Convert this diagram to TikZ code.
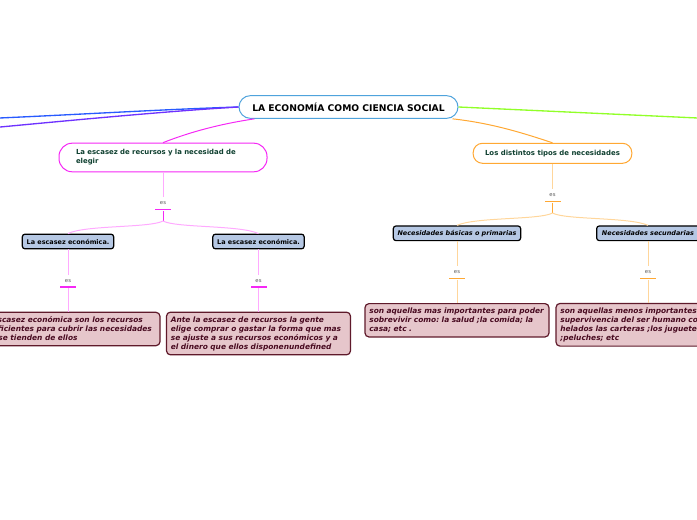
\documentclass[tikz,border=0pt]{standalone}
\usepackage{fontspec}
\setmainfont{DejaVu Sans}
\frenchspacing
\definecolor{rootblue}{RGB}{79,163,220}
\definecolor{mag}{RGB}{245,40,245}
\definecolor{maglight}{RGB}{255,170,255}
\definecolor{ora}{RGB}{255,168,51}
\definecolor{oralight}{RGB}{255,214,155}
\definecolor{subtext}{RGB}{15,64,48}
\definecolor{bluefill}{RGB}{182,200,228}
\definecolor{pinkfill}{RGB}{230,198,203}
\definecolor{pinkline}{RGB}{95,26,43}
\definecolor{pinktext}{RGB}{72,10,32}
\definecolor{lineblue}{RGB}{40,90,255}
\definecolor{linepurple}{RGB}{110,50,255}
\definecolor{linegreen}{RGB}{145,255,40}
\tikzset{every picture/.style={line width=0.75pt}}
\tikzset{
  rootbox/.style={draw=rootblue,fill=white,rounded corners=8.5pt,inner sep=0pt,font=\fontsize{6.9}{8}\selectfont\bfseries},
  subbox/.style={fill=white,rounded corners=10pt,inner sep=0pt,text=subtext,align=left,font=\fontsize{5.2}{6.75}\selectfont\bfseries},
  bluebox/.style={draw=black,line width=0.9pt,fill=bluefill,rounded corners=2pt,inner sep=0pt,font=\fontsize{4.85}{6}\selectfont\bfseries},
  pinkbox/.style={draw=pinkline,line width=0.9pt,fill=pinkfill,rounded corners=3pt,inner sep=0pt,text=pinktext,align=left,font=\fontsize{5.58}{6.75}\selectfont\bfseries\itshape},
  esnode/.style={inner sep=0pt,minimum height=9.6pt,text=black!65,font=\fontsize{4}{5}\selectfont},
  esbar/.style={inner sep=0pt,minimum width=12pt,minimum height=1.2pt,fill=#1},
}

\begin{document}
\begin{tikzpicture}[x=0.75pt,y=0.75pt,yscale=-1,xscale=1]
\path [use as bounding box,clip] (0,0) rectangle (697,520);

%Coordinates of the branches leaving the picture
\coordinate (endblue) at (-5,118.2);
\coordinate (endpurple) at (-5,127.5);
\coordinate (endgreen) at (702,118.2);
\coordinate (joinleft) at (163,221);
\coordinate (joinright) at (552.5,213);

%Shape: Root
\node [rootbox,minimum width=164.25pt,minimum height=17pt] (root) at (348.5,107) {LA ECONOMÍA COMO CIENCIA SOCIAL};

%Shape: Topics
\node [subbox,draw=mag,minimum width=156pt,minimum height=21.5pt,text width=130.5pt] (scarcity) at (163,157.5) {La escasez de recursos y la necesidad de\\elegir};
\node [subbox,draw=ora,minimum width=119pt,minimum height=15pt,rounded corners=7pt,align=center] (kinds) at (552.5,153.3) {Los distintos tipos de necesidades};

%Shape: es labels and bars
\node [esnode] (esa) at (163,203.5) {es};
\node [esbar=mag] (bara) at (163,209.5) {};
\node [esnode] (esb) at (68,281.5) {es};
\node [esbar=mag] (barb) at (68,287) {};
\node [esnode] (esc) at (258.5,281.5) {es};
\node [esbar=mag] (barc) at (258.5,287) {};
\node [esnode] (esd) at (552.5,195.5) {es};
\node [esbar=ora] (bard) at (552.5,201.5) {};
\node [esnode] (ese) at (457,272.5) {es};
\node [esbar=ora] (bare) at (457,278.5) {};
\node [esnode] (esf) at (648,272.5) {es};
\node [esbar=ora] (barf) at (648,278.5) {};

%Shape: Blue boxes
\node [bluebox,minimum width=68.5pt,minimum height=11pt] (econa) at (68,241.5) {La escasez económica.};
\node [bluebox,minimum width=68.5pt,minimum height=11pt] (econb) at (258.5,241.5) {La escasez económica.};
\node [bluebox,minimum width=95.5pt,minimum height=11pt,font=\fontsize{4.85}{6}\selectfont\bfseries\itshape] (basic) at (457,233.3) {Necesidades básicas o primarias};
\node [bluebox,minimum width=77pt,minimum height=11pt,font=\fontsize{4.85}{6}\selectfont\bfseries\itshape] (second) at (648,233.3) {Necesidades secundarias};

%Shape: Pink boxes
\node [pinkbox,minimum width=138pt,minimum height=25pt,text width=131.5pt] (defa) at (68,329) {La escasez económica son los recursos\\insuficientes para cubrir las necesidades\\que se tienden de ellos};
\node [pinkbox,minimum width=138pt,minimum height=32pt,text width=131.5pt] (defb) at (258.5,333.5) {Ante la escasez de recursos la gente\\elige comprar o gastar la forma que mas\\se ajuste a sus recursos económicos y a\\el dinero que ellos disponenundefined};
\node [pinkbox,minimum width=138pt,minimum height=25pt,text width=131.5pt] (defc) at (457,320.3) {son aquellas mas importantes para poder\\sobrevivir como: la salud ;la comida; la\\casa; etc .};
\node [pinkbox,minimum width=138pt,minimum height=32pt,text width=131.5pt] (defd) at (648,324.8) {son aquellas menos importantes para la\\supervivencia del ser humano como\\helados las carteras ;los juguetes\\;peluches; etc};

%Straight Lines and curves of the root
\draw [color=lineblue,line width=1pt] (root.west) .. controls (160,109.5) and (80,114.5) .. (endblue);
\draw [color=linepurple,line width=1pt] (root.west) .. controls (170,111) and (80,119.5) .. (endpurple);
\draw [color=linegreen,line width=1pt] (root.east) -- (endgreen);
\draw [color=mag] (root.south west) ++(16,0) coordinate (roota) (roota) .. controls (220,124) and (190,132) .. (scarcity.north);
\draw [color=ora] (root.south east) ++(-6,0) coordinate (rootb) (rootb) .. controls (490,123) and (520,132) .. (kinds.north);

%Straight Lines of the left branch
\draw [color=maglight] (scarcity.south) -- (esa.north);
\draw [color=mag] (bara.south) -- (joinleft);
\draw [color=maglight] (joinleft) .. controls (150,228) and (85,225) .. (econa.north);
\draw [color=maglight] (joinleft) .. controls (176,228) and (240,225) .. (econb.north);
\draw [color=maglight] (econa.south) -- (esb.north);
\draw [color=maglight] (econb.south) -- (esc.north);
\draw [color=maglight] (barb.south) -- (defa.north);
\draw [color=maglight] (barc.south) -- (defb.north);

%Straight Lines of the right branch
\draw [color=oralight] (kinds.south) -- (esd.north);
\draw [color=ora] (bard.south) -- (joinright);
\draw [color=oralight] (joinright) .. controls (540,220) and (475,217) .. (basic.north);
\draw [color=oralight] (joinright) .. controls (565,220) and (630,217) .. (second.north);
\draw [color=oralight] (basic.south) -- (ese.north);
\draw [color=oralight] (second.south) -- (esf.north);
\draw [color=oralight] (bare.south) -- (defc.north);
\draw [color=oralight] (barf.south) -- (defd.north);

\end{tikzpicture}
\end{document}
